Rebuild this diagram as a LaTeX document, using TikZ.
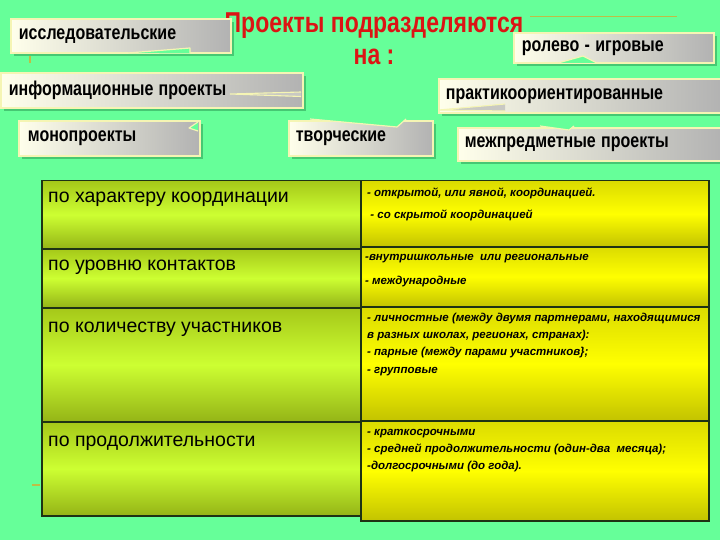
\documentclass[tikz,border=0pt]{standalone}
\usepackage{fontspec}
\setmainfont{Liberation Sans}
\usepackage{graphicx}
\usepackage{tikz}
\usetikzlibrary{shadows}
\definecolor{bg}{RGB}{102,255,153}
\definecolor{boxlight}{RGB}{255,255,235}
\definecolor{boxgray}{RGB}{178,178,178}
\definecolor{boxline}{RGB}{245,245,180}
\definecolor{shadowgreen}{RGB}{70,200,115}
\definecolor{cellline}{RGB}{30,50,20}
\definecolor{leftmid}{RGB}{205,255,50}
\definecolor{leftedge}{RGB}{165,200,25}
\definecolor{rightmid}{RGB}{255,255,0}
\definecolor{rightedge}{RGB}{195,195,0}
\definecolor{olive}{RGB}{190,190,70}
\definecolor{titlered}{RGB}{220,20,20}
\newcommand{\tall}[1]{\scalebox{1}[1.25]{#1}}
\begin{document}
\begin{tikzpicture}
[x=1pt,y=-1pt,
 callbox/.style={draw=boxline,line width=1.8pt,left color=boxlight,right color=boxgray,
   drop shadow={shadow xshift=3pt,shadow yshift=-3pt,fill=shadowgreen,opacity=1},
   anchor=north west,inner xsep=8pt,inner ysep=0pt,align=left,text=black,
   font=\bfseries\fontsize{16}{18}\selectfont},
 notch/.style={draw=boxline,line width=1.2pt,fill=bg,line join=round},
 tail/.style={draw=boxline,line width=1.1pt,fill=boxgray!70!boxlight},
 leftcell/.style={draw=cellline,line width=1.5pt,top color=leftedge,bottom color=leftedge!90!black,
   middle color=leftmid,anchor=north west,minimum width=319,inner sep=0pt},
 rightcell/.style={draw=cellline,line width=1.5pt,top color=rightedge!60!rightmid,bottom color=rightedge,
   middle color=rightmid,anchor=north west,minimum width=348,inner sep=0pt},
 lefttext/.style={anchor=west,inner sep=0pt,text height=14pt,text depth=4pt,
   font=\fontsize{19.5}{22}\selectfont},
 righttext/.style={anchor=north west,inner sep=0pt,align=left,
   font=\bfseries\itshape\fontsize{11.5}{17.3}\selectfont}]
\fill[bg] (0,0) rectangle (720,540);
\useasboundingbox (0,0) rectangle (720,540);
% decorative lines
\coordinate (la) at (530,17); \coordinate (lb) at (677,17);
\coordinate (lc) at (30,52); \coordinate (ld) at (30,63);
\coordinate (le) at (32,485); \coordinate (lf) at (40,485);
\draw[olive,line width=1pt] (la) -- (lb);
\draw[olive,line width=1.2pt] (lc) -- (ld);
\draw[olive,line width=1.2pt] (le) -- (lf);
% title
\node[text=titlered,align=center,font=\bfseries\fontsize{23}{32}\selectfont] (title) at (374,39)
  {\tall{Проекты подразделяются}\\\tall{на :}};
% callouts
\node[callbox,minimum width=220,minimum height=34,text width=204] (issl) at (10,18) {\tall{исследовательские}};
\draw[notch] (128,53) -- (190,48) -- (190,53.5);
\node[callbox,minimum width=200,minimum height=30,text width=184] (rol) at (513,32) {\tall{ролево - игровые}};
\draw[notch] (558,63) -- (583,56) -- (597,63);
\node[callbox,minimum width=302,minimum height=35,text width=286,inner xsep=7pt] (inform) at (0,72) {\tall{информационные проекты}};
\draw[tail] (301,92) -- (230,94) -- (301,96.5);
\node[callbox,minimum width=284,minimum height=34,text width=270,inner xsep=7pt] (prakt) at (438,78) {\tall{практикоориентированные}};
\draw[tail] (505,104) -- (439,110) -- (505,111);
\node[callbox,minimum width=179,minimum height=35,text width=163,inner xsep=9pt] (mono) at (18,120) {\tall{монопроекты}};
\draw[notch] (198,122) -- (189,128) -- (198,131);
\node[callbox,minimum width=144,minimum height=35,text width=130,inner xsep=7pt] (tvor) at (288,120) {\tall{творческие}};
\draw[notch] (310,119) -- (397,127) -- (406,119);
\node[callbox,minimum width=265,minimum height=33,text width=251,inner xsep=7pt] (mezh) at (457,127) {\tall{межпредметные проекты}};
\draw[notch] (540,126) -- (569,130) -- (574,126);
% table
\node[leftcell,minimum height=68] (k1) at (41,180) {};
\node[leftcell,minimum height=59] (k2) at (41,248) {};
\node[leftcell,minimum height=114] (k3) at (41,307) {};
\node[leftcell,minimum height=94] (k4) at (41,421) {};
\node[rightcell,minimum height=66] (v1) at (360,180) {};
\node[rightcell,minimum height=60] (v2) at (360,246) {};
\node[rightcell,minimum height=114] (v3) at (360,306) {};
\node[rightcell,minimum height=100] (v4) at (360,420) {};
\node[lefttext] (kt1) at (48,198) {по характеру координации};
\node[lefttext] (kt2) at (48,265) {по уровню контактов};
\node[lefttext] (kt3) at (48,327) {по количеству участников};
\node[lefttext] (kt4) at (48,441) {по продолжительности};
\node[righttext] (vt1) at (367,184) {\strut- открытой, или явной, координацией.\\[4.7pt]\ - со скрытой координацией};
\node[righttext] (vt2) at (365,248) {\strut-внутришкольные \ или региональные\\[6.7pt]- международные};
\node[righttext] (vt3) at (367,309) {\strut- личностные (между двумя партнерами, находящимися\\в разных школах, регионах, странах):\\- парные (между парами участников\};\\- групповые};
\node[righttext] (vt4) at (367,423) {\strut- краткосрочными\\- средней продолжительности (один-два \ месяца);\\-долгосрочными (до года).};
\end{tikzpicture}
\end{document}
